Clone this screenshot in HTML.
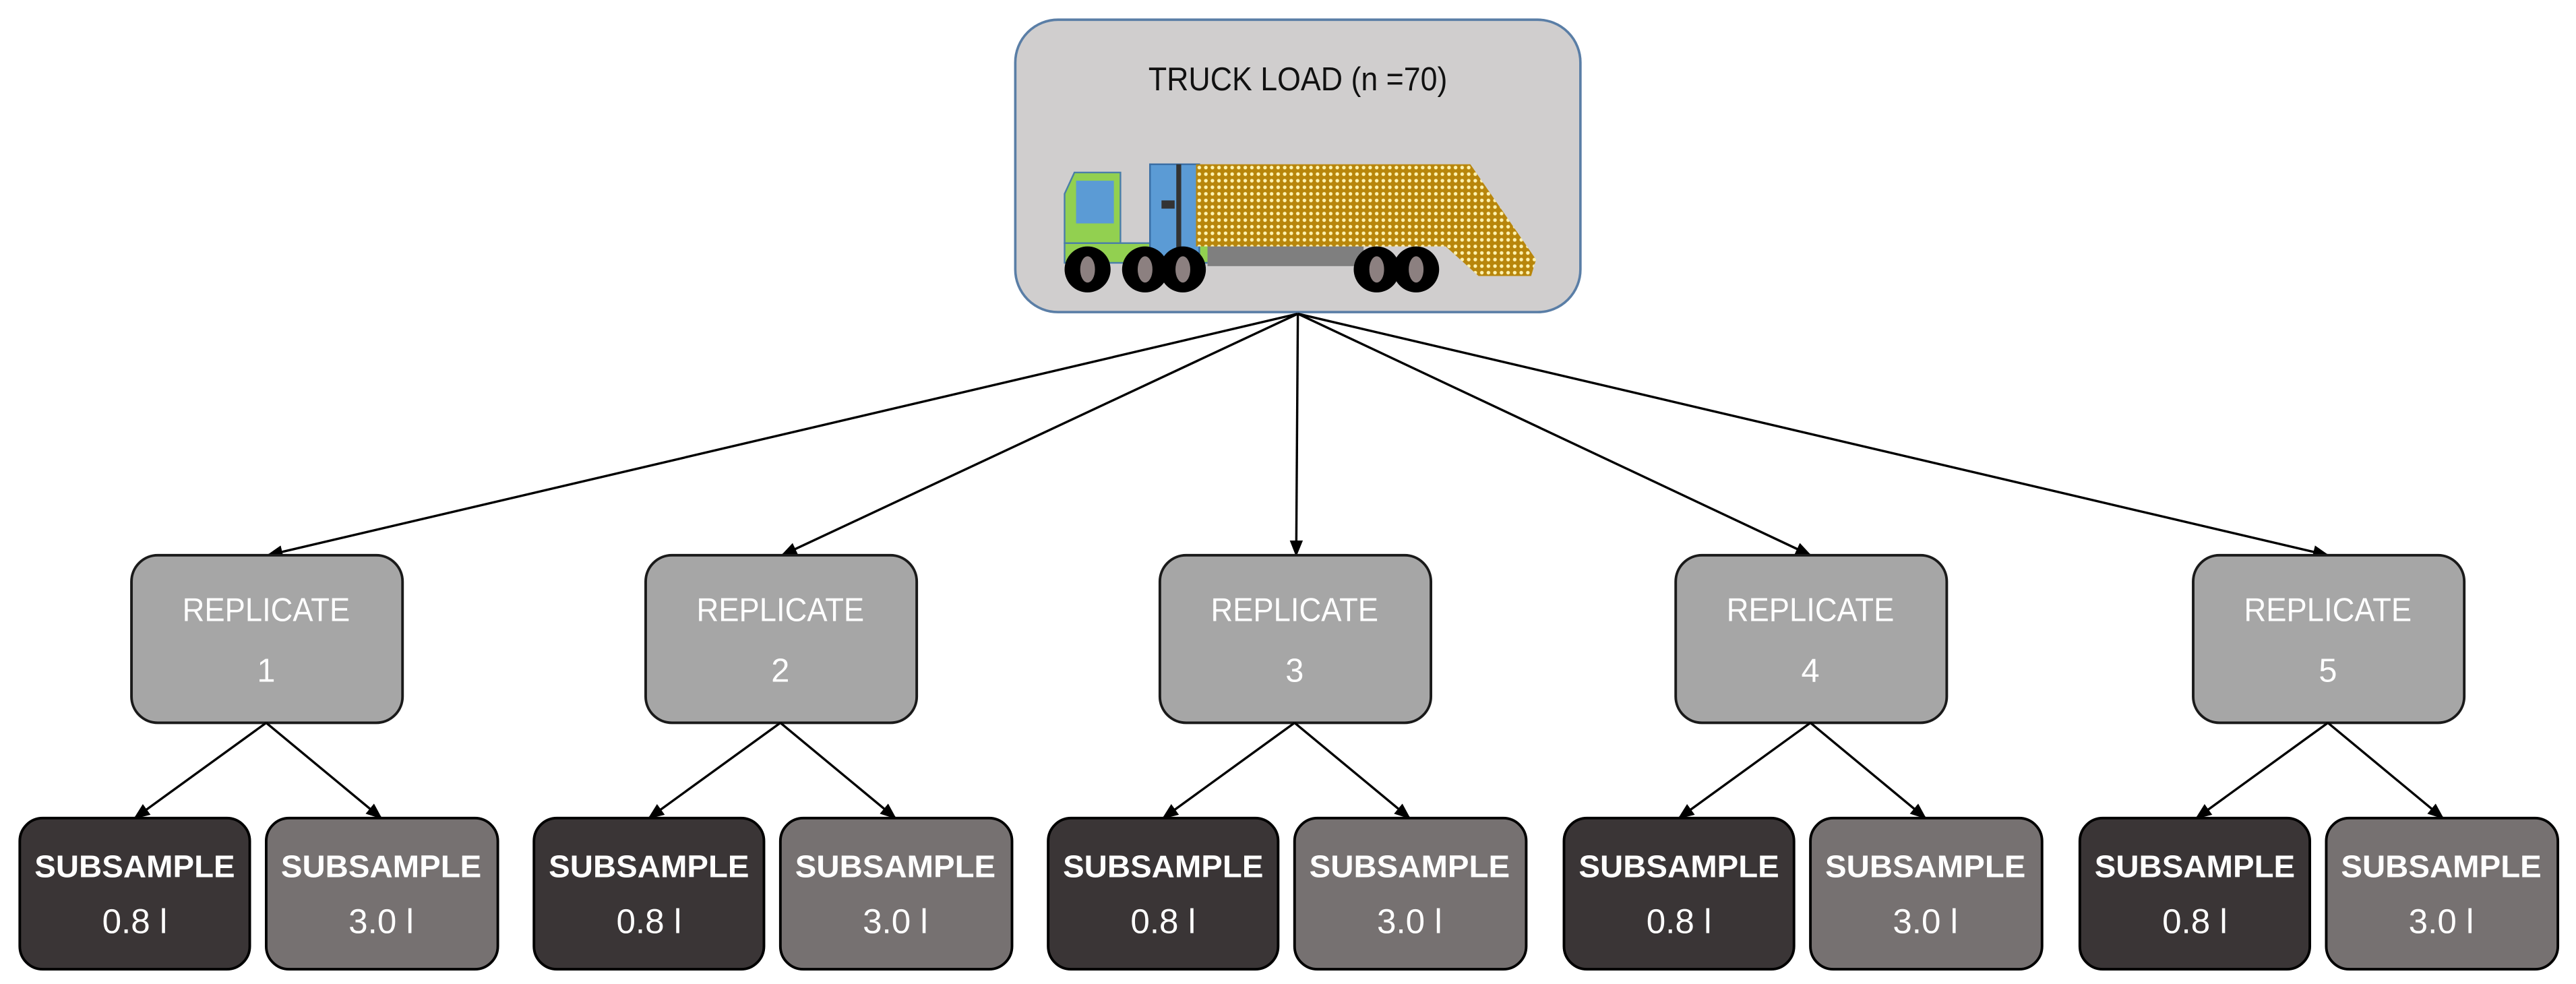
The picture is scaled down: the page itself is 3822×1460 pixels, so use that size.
<!DOCTYPE html>
<html><head><meta charset="utf-8"><style>
html,body{margin:0;padding:0;background:#fff;}
svg{display:block;}
</style></head><body>
<svg width="3822" height="1460" viewBox="0 0 1568 599" xmlns="http://www.w3.org/2000/svg">
<defs>
<marker id="ah" markerWidth="10" markerHeight="10" refX="9" refY="5" orient="auto" markerUnits="userSpaceOnUse">
<path d="M0,1 L10,5 L0,9 z" fill="#000"/>
</marker>
<pattern id="dots" width="4" height="4" patternUnits="userSpaceOnUse">
<rect width="4" height="4" fill="#b8860b"/>
<circle cx="2" cy="2" r="1.1" fill="#fff3b0"/>
</pattern>
</defs>
<rect x="618" y="12" width="344" height="178" rx="26" fill="#d0cece" stroke="#5a7ea6" stroke-width="1.5"/>
<text x="790" y="55" font-family="Liberation Sans, sans-serif" font-size="20" text-anchor="middle" fill="#111" textLength="182" lengthAdjust="spacingAndGlyphs">TRUCK LOAD (n =70)</text>
<polygon points="648,118 654,105 682,105 682,148 648,148" fill="#92d050" stroke="#4a7ea8" stroke-width="1"/>
<rect x="655" y="110" width="23" height="26" fill="#5b9bd5"/>
<rect x="648" y="148" width="90" height="12" fill="#92d050" stroke="#4a7ea8" stroke-width="1"/>
<rect x="700" y="100" width="30" height="58" fill="#5b9bd5" stroke="#3a6ea5" stroke-width="1"/>
<rect x="716" y="100" width="3" height="58" fill="#333"/>
<rect x="707" y="122" width="8" height="5" fill="#333"/>
<rect x="735" y="148" width="95" height="14" fill="#7f7f7f"/>
<rect x="728" y="100" width="152" height="50" fill="url(#dots)"/>
<polygon points="880,100 895,100 935,158 932,168 900,168 880,150" fill="url(#dots)"/>
<g fill="#000">
<circle cx="662" cy="164" r="14"/><circle cx="697" cy="164" r="14"/><circle cx="720" cy="164" r="14"/>
<circle cx="838" cy="164" r="14"/><circle cx="862" cy="164" r="14"/>
</g>
<g fill="#8c8080">
<ellipse cx="662" cy="164" rx="4.5" ry="8"/><ellipse cx="697" cy="164" rx="4.5" ry="8"/><ellipse cx="720" cy="164" rx="4.5" ry="8"/>
<ellipse cx="838" cy="164" rx="4.5" ry="8"/><ellipse cx="862" cy="164" rx="4.5" ry="8"/>
</g>
<g stroke="#000" stroke-width="1.4" marker-end="url(#ah)">
<line x1="790" y1="191" x2="163" y2="338"/>
<line x1="790" y1="191" x2="476" y2="338"/>
<line x1="790" y1="191" x2="789" y2="338"/>
<line x1="790" y1="191" x2="1102" y2="338"/>
<line x1="790" y1="191" x2="1417" y2="338"/>
</g>
<g font-family="Liberation Sans, sans-serif" text-anchor="middle">
<rect x="80" y="338" width="165" height="102" rx="16" fill="#a6a6a6" stroke="#1a1a1a" stroke-width="1.6"/>
<rect x="393" y="338" width="165" height="102" rx="16" fill="#a6a6a6" stroke="#1a1a1a" stroke-width="1.6"/>
<rect x="706" y="338" width="165" height="102" rx="16" fill="#a6a6a6" stroke="#1a1a1a" stroke-width="1.6"/>
<rect x="1020" y="338" width="165" height="102" rx="16" fill="#a6a6a6" stroke="#1a1a1a" stroke-width="1.6"/>
<rect x="1335" y="338" width="165" height="102" rx="16" fill="#a6a6a6" stroke="#1a1a1a" stroke-width="1.6"/>
<g fill="#fff" font-size="20">
<text x="162" y="378" textLength="102" lengthAdjust="spacingAndGlyphs">REPLICATE</text><text x="162" y="415">1</text>
<text x="475" y="378" textLength="102" lengthAdjust="spacingAndGlyphs">REPLICATE</text><text x="475" y="415">2</text>
<text x="788" y="378" textLength="102" lengthAdjust="spacingAndGlyphs">REPLICATE</text><text x="788" y="415">3</text>
<text x="1102" y="378" textLength="102" lengthAdjust="spacingAndGlyphs">REPLICATE</text><text x="1102" y="415">4</text>
<text x="1417" y="378" textLength="102" lengthAdjust="spacingAndGlyphs">REPLICATE</text><text x="1417" y="415">5</text>
</g>
<g stroke="#000" stroke-width="1.4" marker-end="url(#ah)">
<line x1="162" y1="440" x2="82" y2="498"/><line x1="162" y1="440" x2="232" y2="498"/>
<line x1="475" y1="440" x2="395" y2="498"/><line x1="475" y1="440" x2="545" y2="498"/>
<line x1="788" y1="440" x2="708" y2="498"/><line x1="788" y1="440" x2="858" y2="498"/>
<line x1="1102" y1="440" x2="1022" y2="498"/><line x1="1102" y1="440" x2="1172" y2="498"/>
<line x1="1417" y1="440" x2="1337" y2="498"/><line x1="1417" y1="440" x2="1487" y2="498"/>
</g>
<g stroke="#000" stroke-width="1.6">
<rect x="12" y="498" width="140" height="92" rx="14" fill="#3a3536"/>
<rect x="162" y="498" width="141" height="92" rx="14" fill="#767171"/>
<rect x="325" y="498" width="140" height="92" rx="14" fill="#3a3536"/>
<rect x="475" y="498" width="141" height="92" rx="14" fill="#767171"/>
<rect x="638" y="498" width="140" height="92" rx="14" fill="#3a3536"/>
<rect x="788" y="498" width="141" height="92" rx="14" fill="#767171"/>
<rect x="952" y="498" width="140" height="92" rx="14" fill="#3a3536"/>
<rect x="1102" y="498" width="141" height="92" rx="14" fill="#767171"/>
<rect x="1266" y="498" width="140" height="92" rx="14" fill="#3a3536"/>
<rect x="1416" y="498" width="141" height="92" rx="14" fill="#767171"/>
</g>
<g fill="#fff">
<g font-size="19" font-weight="bold">
<text x="82" y="534" textLength="122" lengthAdjust="spacingAndGlyphs">SUBSAMPLE</text>
<text x="232" y="534" textLength="122" lengthAdjust="spacingAndGlyphs">SUBSAMPLE</text>
<text x="395" y="534" textLength="122" lengthAdjust="spacingAndGlyphs">SUBSAMPLE</text>
<text x="545" y="534" textLength="122" lengthAdjust="spacingAndGlyphs">SUBSAMPLE</text>
<text x="708" y="534" textLength="122" lengthAdjust="spacingAndGlyphs">SUBSAMPLE</text>
<text x="858" y="534" textLength="122" lengthAdjust="spacingAndGlyphs">SUBSAMPLE</text>
<text x="1022" y="534" textLength="122" lengthAdjust="spacingAndGlyphs">SUBSAMPLE</text>
<text x="1172" y="534" textLength="122" lengthAdjust="spacingAndGlyphs">SUBSAMPLE</text>
<text x="1336" y="534" textLength="122" lengthAdjust="spacingAndGlyphs">SUBSAMPLE</text>
<text x="1486" y="534" textLength="122" lengthAdjust="spacingAndGlyphs">SUBSAMPLE</text>
</g>
<g font-size="21">
<text x="82" y="568">0.8 l</text><text x="232" y="568">3.0 l</text>
<text x="395" y="568">0.8 l</text><text x="545" y="568">3.0 l</text>
<text x="708" y="568">0.8 l</text><text x="858" y="568">3.0 l</text>
<text x="1022" y="568">0.8 l</text><text x="1172" y="568">3.0 l</text>
<text x="1336" y="568">0.8 l</text><text x="1486" y="568">3.0 l</text>
</g>
</g>
</g>
</svg>
</body></html>
